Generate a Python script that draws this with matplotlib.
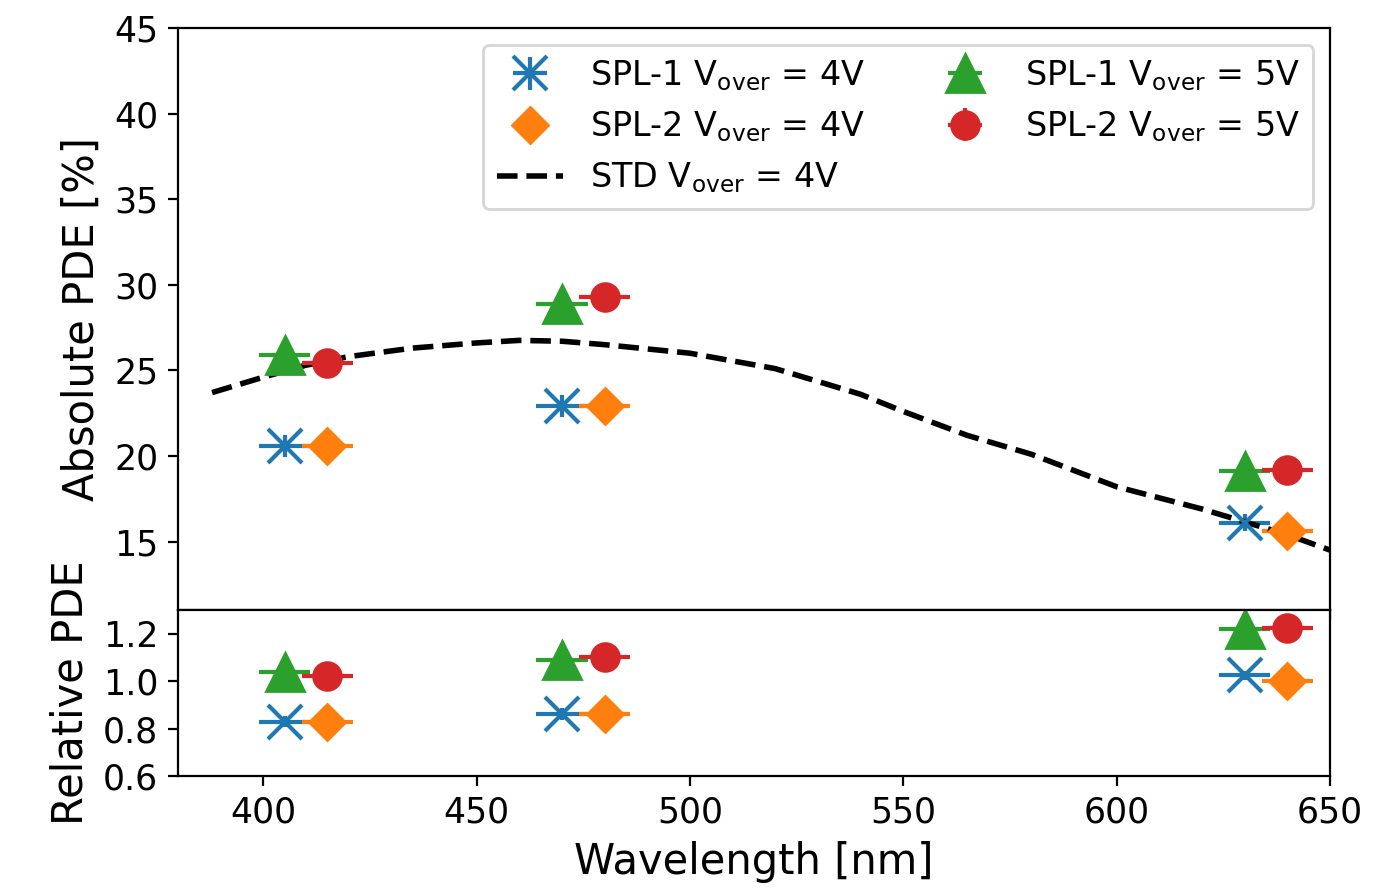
# PDE vs wavelength, absolute (top) and relative to STD (bottom)
import matplotlib
matplotlib.use('Agg')
import matplotlib.pyplot as plt
import numpy as np

# ------ data ------
wl_spl1 = [405, 470, 630]
wl_spl2 = [415, 480, 640]
wl_err = 6

# absolute PDE [%]
spl1_4v = [20.6, 22.9, 16.1]
spl2_4v = [20.6, 22.9, 15.6]
spl1_5v = [25.9, 28.9, 19.1]
spl2_5v = [25.4, 29.3, 19.2]
abs_err = [0.65, 0.65, 0.5]

# relative PDE
rel_spl1_4v = [0.83, 0.86, 1.025]
rel_spl2_4v = [0.83, 0.86, 1.0]
rel_spl1_5v = [1.04, 1.09, 1.22]
rel_spl2_5v = [1.02, 1.10, 1.225]
rel_err = [0.025, 0.025, 0.02]

# STD curve
std_wl = [388, 400, 410, 420, 435, 450, 460, 470, 480, 490, 500, 520, 540,
          550, 565, 580, 600, 620, 640, 650]
std_pde = [23.7, 24.6, 25.3, 25.8, 26.3, 26.6, 26.75, 26.7, 26.5, 26.25, 26.0,
           25.1, 23.6, 22.6, 21.2, 20.1, 18.2, 16.9, 15.4, 14.5]

labels = [r'SPL-1 V$_{\rm over}$ = 4V', r'SPL-2 V$_{\rm over}$ = 4V',
          r'SPL-1 V$_{\rm over}$ = 5V', r'SPL-2 V$_{\rm over}$ = 5V',
          r'STD V$_{\rm over}$ = 4V']

c_blue, c_orange, c_green, c_red = '#1f77b4', '#ff7f0e', '#2ca02c', '#d62728'

fig = plt.figure(figsize=(6.865, 4.455), dpi=200)
ax = fig.add_axes([0.1296, 0.3154, 0.839, 0.6532])
ax2 = fig.add_axes([0.1296, 0.129, 0.839, 0.1863], sharex=ax)

# top panel
h1 = ax.errorbar(wl_spl1, spl1_4v, xerr=wl_err, yerr=abs_err, fmt='x', ms=12.5, mew=1.5,
                 color=c_blue, label=labels[0])
h2 = ax.errorbar(wl_spl2, spl2_4v, xerr=wl_err, yerr=abs_err, fmt='D', ms=9,
                 color=c_orange, label=labels[1])
h5, = ax.plot(std_wl, std_pde, color='black', linestyle='dashed', lw=2, label=labels[4])
h3 = ax.errorbar(wl_spl1, spl1_5v, xerr=wl_err, yerr=abs_err, fmt='^', ms=13.5,
                 color=c_green, label=labels[2])
h4 = ax.errorbar(wl_spl2, spl2_5v, xerr=wl_err, yerr=abs_err, fmt='o', ms=10,
                 color=c_red, label=labels[3])

ax.set_ylim(11, 45)
ax.set_yticks([15, 20, 25, 30, 35, 40, 45])
ax.set_ylabel('Absolute PDE [%]', fontsize=15)
ax.tick_params(labelsize=12.5)
plt.setp(ax.get_xticklabels(), visible=False)

ax.legend([h1, h2, h5, h3, h4], [labels[0], labels[1], labels[4], labels[2], labels[3]],
          ncol=2, loc='upper right', fontsize=12, columnspacing=2.0)

# bottom panel
ax2.errorbar(wl_spl1, rel_spl1_4v, xerr=wl_err, yerr=rel_err, fmt='x', ms=12.5, mew=1.5,
             color=c_blue)
ax2.errorbar(wl_spl2, rel_spl2_4v, xerr=wl_err, yerr=rel_err, fmt='D', ms=9,
             color=c_orange)
ax2.errorbar(wl_spl1, rel_spl1_5v, xerr=wl_err, yerr=rel_err, fmt='^', ms=13.5,
             color=c_green)
ax2.errorbar(wl_spl2, rel_spl2_5v, xerr=wl_err, yerr=rel_err, fmt='o', ms=10,
             color=c_red)

ax2.set_ylim(0.6, 1.3)
ax2.set_yticks([0.6, 0.8, 1.0, 1.2])
ax2.set_xlim(380, 650)
ax2.set_xticks([400, 450, 500, 550, 600, 650])
ax2.set_ylabel('Relative PDE', fontsize=15)
ax2.set_xlabel('Wavelength [nm]', fontsize=15)
ax2.tick_params(labelsize=12.5)

fig.savefig('out.png', dpi=200)
